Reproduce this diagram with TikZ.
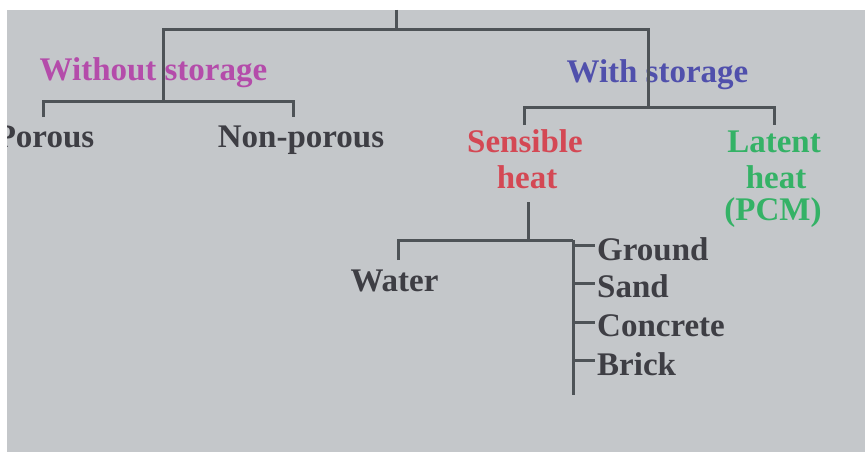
\documentclass[tikz,border=0pt]{standalone}
\usepackage{fontspec}
\setmainfont{Liberation Serif}
\definecolor{bgc}{RGB}{196,199,202}
\definecolor{lnc}{RGB}{78,83,87}
\definecolor{txc}{RGB}{62,62,68}
\definecolor{cmag}{RGB}{180,76,170}
\definecolor{cblu}{RGB}{80,80,172}
\definecolor{cred}{RGB}{212,72,84}
\definecolor{cgrn}{RGB}{52,178,102}
\begin{document}
\begin{tikzpicture}[x=1pt,y=-1pt,
  lbl/.style={inner sep=0pt, anchor=base, font=\fontsize{33}{35}\selectfont\bfseries, text=txc},
  lst/.style={lbl, anchor=base west},
  conn/.style={draw=lnc, line width=3pt}]
\useasboundingbox (0,0) rectangle (865,452);
\fill[white] (0,0) rectangle (865,452);
\fill[bgc] (7,10) rectangle (865,452);
\begin{scope}
\clip (7,10) rectangle (865,452);
% labels
\node[lbl, text=cmag] (wo) at (153.5,81) {Without storage};
\node[lbl] (por) at (45,147) {Porous};
\node[lbl] (npor) at (301,147) {Non-porous};
\node[lbl, text=cblu] (ws) at (657.5,83) {With storage};
\node[lbl, text=cred] (sens1) at (525,152) {Sensible};
\node[lbl, text=cred] (sens2) at (527,188) {heat};
\node[lbl, text=cgrn] (lat1) at (774,152) {Latent};
\node[lbl, text=cgrn] (lat2) at (776,188) {heat};
\node[lbl, text=cgrn] (lat3) at (773,220) {(PCM)};
\node[lbl] (water) at (394.5,291) {Water};
\node[lst] (ground) at (597,260) {Ground};
\node[lst] (sand) at (597,297) {Sand};
\node[lst] (concr) at (597,336) {Concrete};
\node[lst] (brick) at (597,375) {Brick};
% junction coordinates
\coordinate (top) at (396,10);
\coordinate (bar) at (396,30);
\coordinate (woT) at (163,50);
\coordinate (wsT) at (648,52);
\coordinate (woB) at (163,86);
\coordinate (woJ) at (163,101);
\coordinate (porT) at (43,117);
\coordinate (nporT) at (293,117);
\coordinate (wsB) at (648,88);
\coordinate (wsJ) at (648,107);
\coordinate (sensT) at (524,125);
\coordinate (latT) at (774,125);
\coordinate (sensB) at (528,202);
\coordinate (sensJ) at (528,240);
\coordinate (watT) at (398,260);
\coordinate (spine) at (573,240);
\coordinate (spineE) at (573,395);
% connectors
\draw[conn] (top) -- (bar);
\draw[conn] (woT) |- (bar) -| (wsT);
\draw[conn] (woT) -- (woB);
\draw[conn] (woB) -- (woJ);
\draw[conn] (porT) |- (woJ) -| (nporT);
\draw[conn] (wsT) -- (wsB) -- (wsJ);
\draw[conn] (sensT) |- (wsJ) -| (latT);
\draw[conn] (sensB) -- (sensJ);
\draw[conn] (watT) |- (sensJ) -- (spine);
\draw[conn] (spine) -- (spineE);
\draw[conn] (spine |- 0,245) -- (595,245);
\draw[conn] (spine |- 0,283) -- (595,283);
\draw[conn] (spine |- 0,322) -- (595,322);
\draw[conn] (spine |- 0,360) -- (595,360);
\end{scope}
\end{tikzpicture}
\end{document}
